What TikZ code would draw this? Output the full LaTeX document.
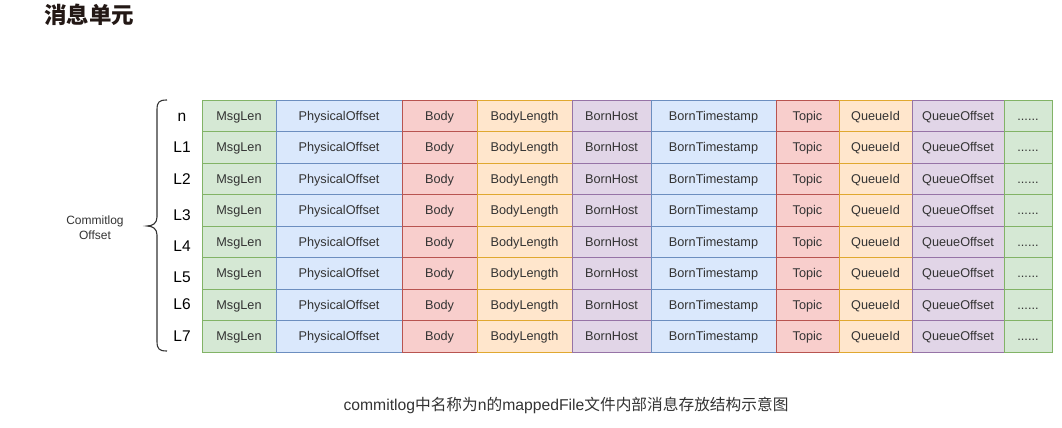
\documentclass[tikz,border=0pt]{standalone}
\usepackage{fontspec}
\setmainfont{Liberation Sans}
\newfontfamily\cjk{Noto Sans CJK SC}
\newcommand\mysixdots{......}
\definecolor{gfill}{HTML}{D5E8D4}\definecolor{gdraw}{HTML}{82B366}
\definecolor{bfill}{HTML}{DAE8FC}\definecolor{bdraw}{HTML}{6C8EBF}
\definecolor{rfill}{HTML}{F8CECC}\definecolor{rdraw}{HTML}{B85450}
\definecolor{ofill}{HTML}{FFE6CC}\definecolor{odraw}{HTML}{E0A830}
\definecolor{pfill}{HTML}{E1D5E7}\definecolor{pdraw}{HTML}{9673A6}
\definecolor{txt}{HTML}{333333}
\definecolor{ttl}{HTML}{231815}
\begin{document}
\begin{tikzpicture}[x=1pt,y=-1pt,
  cell/.style={draw, minimum height=31.5pt, inner sep=0pt, line width=0.8pt,
    text height=9pt, text depth=0pt,
    font=\fontsize{12.7}{14}\selectfont, text=txt},
  gr/.style={cell, fill=gfill, draw=gdraw},
  bl/.style={cell, fill=bfill, draw=bdraw},
  rd/.style={cell, fill=rfill, draw=rdraw},
  og/.style={cell, fill=ofill, draw=odraw},
  pu/.style={cell, fill=pfill, draw=pdraw},
  rowlab/.style={font=\fontsize{15.5}{17}\selectfont, text=black, inner sep=0pt,
    text height=11pt, text depth=0pt},
  sidelab/.style={font=\fontsize{12}{15}\selectfont, text=txt, align=center, inner sep=0pt}
]
\useasboundingbox (0,0) rectangle (1062,428);

\node[anchor=west, inner sep=0pt, text=ttl, font=\cjk\bfseries\fontsize{22.5}{26}\selectfont] (title) at (44,15) {消息单元};

\foreach \row in {0,...,7}{
  \foreach \l/\r/\sty/\txt [count=\k] in {
    202/276/gr/MsgLen,
    276/402/bl/PhysicalOffset,
    402/477/rd/Body,
    477/572/og/BodyLength,
    572/651/pu/BornHost,
    651/776/bl/BornTimestamp,
    776/839/rd/Topic,
    839/912/og/QueueId,
    912/1004/pu/QueueOffset,
    1004/1052/gr/\mysixdots}{
    \node[\sty, minimum width={\r-\l}] (c\k-\row) at ({(\l+\r)/2}, {100+31.5*\row+15.75}) {\txt};
  }
}

\foreach \t/\y [count=\i] in {n/116, L1/147, L2/179, L3/215, L4/246, L5/277, L6/304, L7/336}{
  \node[rowlab] (lab\i) at (182,\y) {\t};
}

\draw[line width=1.1pt, txt] (167,100) .. controls (159,100) and (157,102) .. (157,110)
  -- (157,217) .. controls (157,223) and (153,226) .. (147,226)
  .. controls (153,226) and (157,229) .. (157,235)
  -- (157,341) .. controls (157,349) and (159,351) .. (167,351);

\node[sidelab] (side) at (95,228) {Commitlog\\Offset};

\node[inner sep=0pt, text=txt, font=\fontsize{15.7}{18}\selectfont] (cap) at (566,405)
  {commitlog{\cjk 中名称为}n{\cjk 的}mappedFile{\cjk 文件内部消息存放结构示意图}};
\end{tikzpicture}
\end{document}
